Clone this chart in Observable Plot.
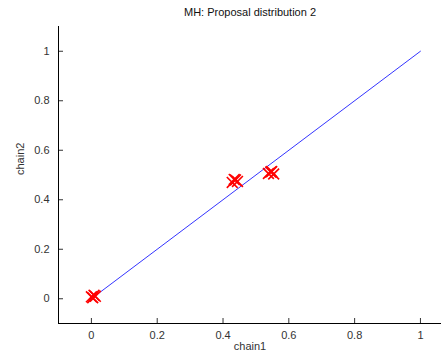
<!DOCTYPE html>
<html><head><meta charset="utf-8">
<script src="https://cdn.jsdelivr.net/npm/d3@7"></script>
<script src="https://cdn.jsdelivr.net/npm/@observablehq/plot@0.6"></script>
<style>
body{margin:0;background:#fff;}
svg{font-family:"Liberation Sans",Arial,sans-serif;}
</style>
</head><body><div id="chart"></div>
<script>
const title = "MH: Proposal distribution 2";
const xLabel = "chain1";
const yLabel = "chain2";
const ticks = [0, 0.2, 0.4, 0.6, 0.8, 1];
const tickLabels = ["0", "0.2", "0.4", "0.6", "0.8", "1"];
// samples of chain1 / chain2
const chain1 = [0.000, 0.008, 0.004, 0.012, 0.428, 0.438, 0.444, 0.434, 0.538, 0.548, 0.554, 0.545];
const chain2 = [0.008, 0.014, 0.004, 0.010, 0.470, 0.480, 0.474, 0.482, 0.506, 0.514, 0.504, 0.512];
// diagonal reference line
const lineX = [0.01, 1];
const lineY = [0.01, 1];

const pts = chain1.map((c, i) => ({x: c, y: chain2[i]}));
const line = lineX.map((x, i) => ({x, y: lineY[i]}));

const plot = Plot.plot({
  width: 441, height: 356,
  marginLeft: 58, marginTop: 26, marginBottom: 33, marginRight: 0,
  style: {fontSize: "11px", color: "#333", background: "#fff"},
  x: {domain: [-0.1, 1.064], ticks, tickFormat: (d, i) => tickLabels[i]},
  y: {domain: [-0.1, 1.1], ticks, tickFormat: (d, i) => tickLabels[i]},
  marks: [
    Plot.axisX({ticks, tickSize: -5, tickPadding: 13, label: null, tickFormat: (d, i) => tickLabels[i], fill: "#333"}),
    Plot.axisY({ticks, tickSize: -5, tickPadding: 14, label: null, tickFormat: (d, i) => tickLabels[i], fill: "#333"}),
    Plot.ruleX([-0.1], {stroke: "#000"}),
    Plot.ruleY([-0.1], {stroke: "#000"}),
    Plot.line(line, {x: "x", y: "y", stroke: "#0000ff", strokeWidth: 0.8}),
    Plot.dot(pts, {x: "x", y: "y", symbol: "times", r: 5, stroke: "red", strokeWidth: 1.6}),
    Plot.text([title], {frameAnchor: "top", dy: -18, fontSize: 11, fill: "#111"}),
    Plot.text([xLabel], {frameAnchor: "bottom", dy: 26, fontSize: 11, fill: "#333"}),
    Plot.text([yLabel], {frameAnchor: "left", dx: -38, rotate: -90, fontSize: 11, fill: "#333"})
  ]
});
document.getElementById("chart").appendChild(plot);
</script>
</body></html>
